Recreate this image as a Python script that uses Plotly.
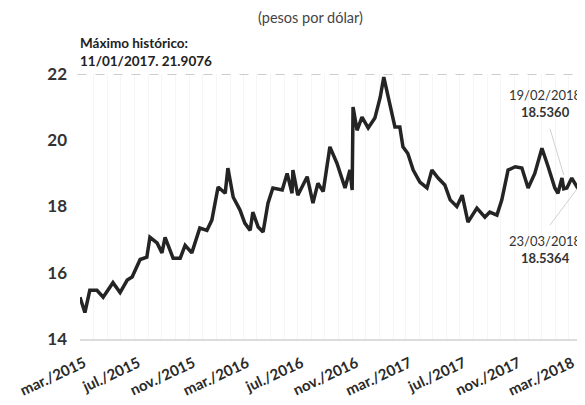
import plotly.graph_objects as go

# --- data ---
dates = [
    "2015-03-01", "2015-03-12", "2015-03-23", "2015-04-08", "2015-04-22", "2015-05-14",
    "2015-05-30", "2015-06-15", "2015-06-26", "2015-07-14", "2015-07-29", "2015-08-05",
    "2015-08-21", "2015-09-01", "2015-09-08", "2015-09-26", "2015-10-12", "2015-10-23",
    "2015-11-07", "2015-11-25", "2015-12-11", "2015-12-22", "2016-01-05", "2016-01-21",
    "2016-01-27", "2016-02-08", "2016-02-23", "2016-03-05", "2016-03-17", "2016-03-23",
    "2016-04-04", "2016-04-15", "2016-04-26", "2016-05-07", "2016-05-28", "2016-06-08",
    "2016-06-19", "2016-06-21", "2016-07-02", "2016-07-23", "2016-08-05", "2016-08-16",
    "2016-08-28", "2016-09-12", "2016-09-28", "2016-10-16", "2016-10-27", "2016-11-01",
    "2016-11-03", "2016-11-12", "2016-11-23", "2016-12-07", "2016-12-22", "2017-01-03",
    "2017-01-11", "2017-01-25", "2017-02-05", "2017-02-16", "2017-02-23", "2017-03-06",
    "2017-03-18", "2017-04-02", "2017-04-18", "2017-04-29", "2017-05-13", "2017-05-28",
    "2017-06-09", "2017-06-24", "2017-07-06", "2017-07-19", "2017-08-08", "2017-08-26",
    "2017-09-06", "2017-09-22", "2017-10-03", "2017-10-17", "2017-11-02", "2017-11-17",
    "2017-12-01", "2017-12-16", "2018-01-01", "2018-01-15", "2018-01-30", "2018-02-06",
    "2018-02-15", "2018-02-19", "2018-02-26", "2018-03-09", "2018-03-23",
]
pesos_por_dolar = [
    15.26, 14.80, 15.47, 15.47, 15.26, 15.70,
    15.40, 15.78, 15.87, 16.40, 16.47, 17.07,
    16.90, 16.60, 17.07, 16.44, 16.44, 16.83,
    16.60, 17.35, 17.28, 17.59, 18.59, 18.40,
    19.16, 18.28, 17.90, 17.50, 17.28, 17.83,
    17.38, 17.23, 18.10, 18.56, 18.50, 19.00,
    18.40, 19.10, 18.34, 18.90, 18.10, 18.70,
    18.45, 19.80, 19.30, 18.56, 19.10, 18.50,
    21.00, 20.30, 20.70, 20.37, 20.67, 21.30,
    21.9076, 21.10, 20.40, 20.40, 19.80, 19.60,
    19.10, 18.74, 18.56, 19.10, 18.86, 18.65,
    18.20, 18.00, 18.34, 17.53, 17.95, 17.68,
    17.83, 17.74, 18.20, 19.10, 19.20, 19.16,
    18.56, 19.00, 19.76, 19.20, 18.56, 18.40,
    18.86, 18.5360, 18.56, 18.86, 18.5364,
]
tick_dates = ["2015-03-01", "2015-07-01", "2015-11-01", "2016-03-01", "2016-07-01",
              "2016-11-01", "2017-03-01", "2017-07-01", "2017-11-01", "2018-03-01"]
tick_labels = ["mar./2015", "jul./2015", "nov./2015", "mar./2016", "jul./2016",
               "nov./2016", "mar./2017", "jul./2017", "nov./2017", "mar./2018"]
y_ticks = [14, 16, 18, 20, 22]
max_value = 22

FONT = "Lato"

fig = go.Figure()
fig.add_trace(go.Scatter(
    x=dates, y=pesos_por_dolar, mode="lines",
    line=dict(color="#242424", width=3.5),
    hoverinfo="skip", showlegend=False,
))

# the page body adds an 8px offset, so the figure is 8px smaller and margins compensate
fig.update_layout(
    width=577, height=397,
    margin=dict(l=72, r=7, t=66, b=66),
    paper_bgcolor="white", plot_bgcolor="white",
    font=dict(family=FONT, color="#333333"),
    showlegend=False,
)
fig.update_xaxes(
    type="date", range=["2015-03-01", "2018-03-23"],
    tickvals=tick_dates, ticktext=tick_labels, tickangle=-25,
    tickfont=dict(family=FONT, size=15, color="#2a2a2a", weight="bold"),
    ticklabelshift=4, ticklabelstandoff=8,
    showgrid=True, gridcolor="#f5f5f5", gridwidth=1,
    minor=dict(dtick="M1", tick0="2015-03-01", showgrid=True, gridcolor="#f5f5f5"),
    showline=True, linecolor="#dcdcdc", linewidth=2,
    ticks="", zeroline=False,
)
fig.update_yaxes(
    range=[14, 22], tickvals=y_ticks,
    tickfont=dict(family=FONT, size=17, color="#333333", weight="bold"),
    showgrid=False, zeroline=False, showline=False, ticks="",
    ticklabelstandoff=12,
)

# dashed line at historic max level
fig.add_shape(type="line", xref="paper", yref="y", x0=-0.005, x1=1.015, y0=max_value, y1=max_value,
              line=dict(color="#bdbdbd", width=1.5, dash="dash"))
# leader lines
fig.add_shape(type="line", x0="2018-01-19", y0=20.35, x1="2018-02-19", y1=18.95,
              line=dict(color="#d0d0d0", width=1))
fig.add_shape(type="line", x0="2018-01-19", y0=17.44, x1="2018-03-23", y1=18.57,
              line=dict(color="#d0d0d0", width=1))

fig.add_annotation(text="(pesos por dólar)", xref="paper", yref="paper", x=(310 - 80) / 498,
                   y=1 + (74 - 17) / 265, showarrow=False, xanchor="center", yanchor="middle",
                   font=dict(family=FONT, size=14.5, color="#444444"))
fig.add_annotation(text="<b>Máximo histórico:</b><br><b>11/01/2017. 21.9076</b>",
                   xref="paper", yref="paper", x=-0.004, y=1 + (74 - 52) / 265,
                   xanchor="left", yanchor="middle", align="left", showarrow=False,
                   font=dict(family=FONT, size=13.5, color="#222222"))
fig.add_annotation(text="19/02/2018<br><b>18.5360</b>", x="2018-01-09", y=21.12,
                   showarrow=False, xanchor="center", yanchor="middle", align="center",
                   font=dict(family=FONT, size=13, color="#333333"))
fig.add_annotation(text="23/03/2018<br><b>18.5364</b>", x="2018-01-09", y=16.7,
                   showarrow=False, xanchor="center", yanchor="middle", align="center",
                   font=dict(family=FONT, size=13, color="#333333"))

fig.write_html("out.html")
